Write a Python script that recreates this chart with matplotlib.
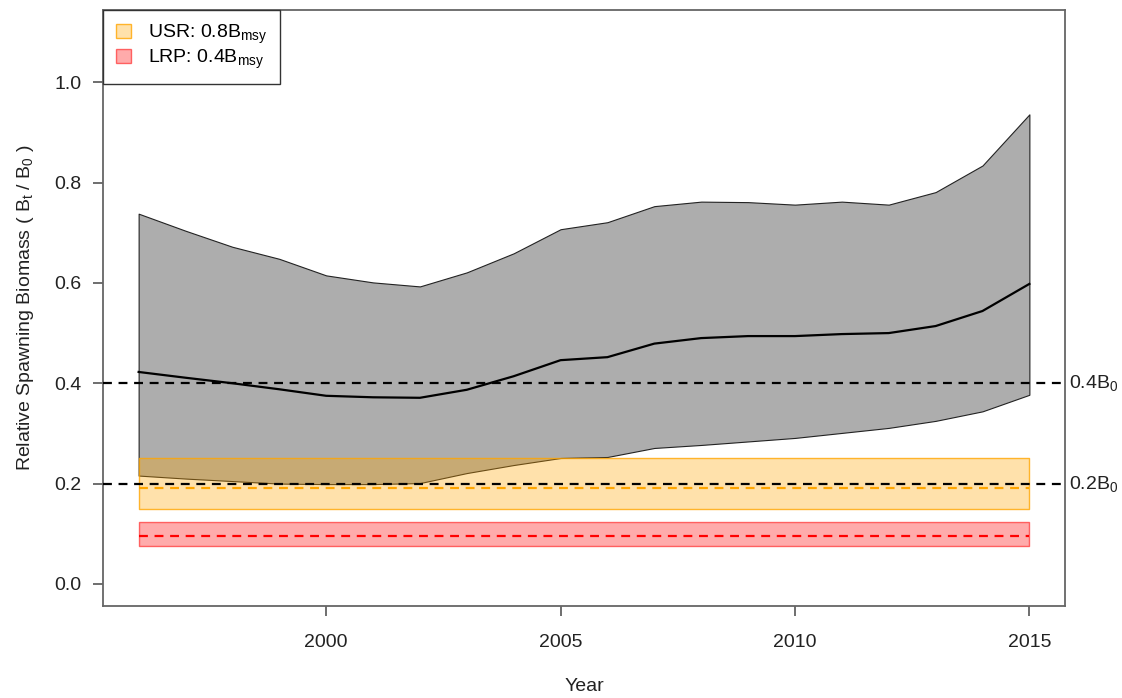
import matplotlib
matplotlib.use("Agg")
import matplotlib.pyplot as plt
from matplotlib.patches import Patch
import numpy as np

plt.rcParams["font.family"] = ["Liberation Sans", "DejaVu Sans"]
plt.rcParams["mathtext.default"] = "regular"

years = np.arange(1996, 2016)
upper = [0.738, 0.704, 0.672, 0.648, 0.615, 0.601, 0.593, 0.621, 0.659, 0.707,
         0.721, 0.753, 0.762, 0.761, 0.756, 0.762, 0.756, 0.781, 0.834, 0.936]
median = [0.4225, 0.411, 0.400, 0.388, 0.375, 0.372, 0.371, 0.387, 0.414, 0.446,
          0.452, 0.479, 0.490, 0.494, 0.494, 0.498, 0.500, 0.514, 0.544, 0.598]
lower = [0.216, 0.210, 0.205, 0.200, 0.199, 0.199, 0.201, 0.221, 0.237, 0.251,
         0.253, 0.271, 0.277, 0.284, 0.291, 0.301, 0.311, 0.325, 0.344, 0.377]

ref_levels = [0.4, 0.2]
ref_labels = ["0.4B$_0$", "0.2B$_0$"]

usr = 0.192
usr_range = (0.150, 0.251)
lrp = 0.096
lrp_range = (0.075, 0.124)

ORANGE_FILL = (1.0, 0.647, 0.0, 0.33)
ORANGE_EDGE = (1.0, 0.647, 0.0, 0.8)
RED_FILL = (1.0, 0.0, 0.0, 0.33)
RED_EDGE = (1.0, 0.0, 0.0, 0.55)
TXT = "#222222"

fig = plt.figure(figsize=(11.22, 6.98), dpi=100)
ax = fig.add_axes([0.0918, 0.1318, 0.8574, 0.8539])

ax.fill_between(years, lower, upper, facecolor="#adadad", edgecolor="#222222",
                linewidth=0.8, zorder=1)
ax.plot(years, median, color="black", linewidth=1.6, zorder=2)

ax.fill_between([years[0], years[-1]], usr_range[0], usr_range[1],
                facecolor=ORANGE_FILL, edgecolor=ORANGE_EDGE, linewidth=1.0, zorder=3)
ax.fill_between([years[0], years[-1]], lrp_range[0], lrp_range[1],
                facecolor=RED_FILL, edgecolor=RED_EDGE, linewidth=1.0, zorder=3)

for lev, lab in zip(ref_levels, ref_labels):
    ax.axhline(lev, color="black", linewidth=1.6, dashes=(4, 3), zorder=4)
    ax.text(1.004, lev, lab, transform=ax.get_yaxis_transform(), ha="left",
            va="center", fontsize=14, color=TXT, clip_on=False)

ax.plot([years[0], years[-1]], [usr, usr], color="orange", linewidth=1.6,
        dashes=(4, 3), zorder=5)
ax.plot([years[0], years[-1]], [lrp, lrp], color="red", linewidth=1.6,
        dashes=(4, 3), zorder=5)

ax.set_xlim(1995.24, 2015.76)
ax.set_ylim(-0.044, 1.144)
ax.set_xticks([2000, 2005, 2010, 2015])
ax.set_yticks([0.0, 0.2, 0.4, 0.6, 0.8, 1.0])
ax.set_yticklabels(["0.0", "0.2", "0.4", "0.6", "0.8", "1.0"])
ax.tick_params(axis="both", labelsize=14, length=7.5, width=1.2,
               color="#555555", labelcolor=TXT)
ax.tick_params(axis="x", pad=13)
ax.tick_params(axis="y", pad=8)
for sp in ax.spines.values():
    sp.set_color("#666666")
    sp.set_linewidth(1.3)

ax.set_xlabel("Year", fontsize=14, color=TXT, labelpad=19)
ax.set_ylabel("Relative Spawning Biomass ( B$_t$ / B$_0$ )", fontsize=14,
              color=TXT, labelpad=13)

handles = [
    Patch(facecolor=ORANGE_FILL, edgecolor=ORANGE_EDGE, label="USR: 0.8B$_{msy}$"),
    Patch(facecolor=RED_FILL, edgecolor=RED_EDGE, label="LRP: 0.4B$_{msy}$"),
]
leg = ax.legend(handles=handles, loc="upper left", borderaxespad=0,
                fontsize=14, fancybox=False, edgecolor="#333333",
                handlelength=0.8, handleheight=0.7, handletextpad=0.85,
                borderpad=0.65, labelspacing=0.1, framealpha=1)
leg.get_frame().set_linewidth(1.0)

fig.savefig("out.png", dpi=100)
